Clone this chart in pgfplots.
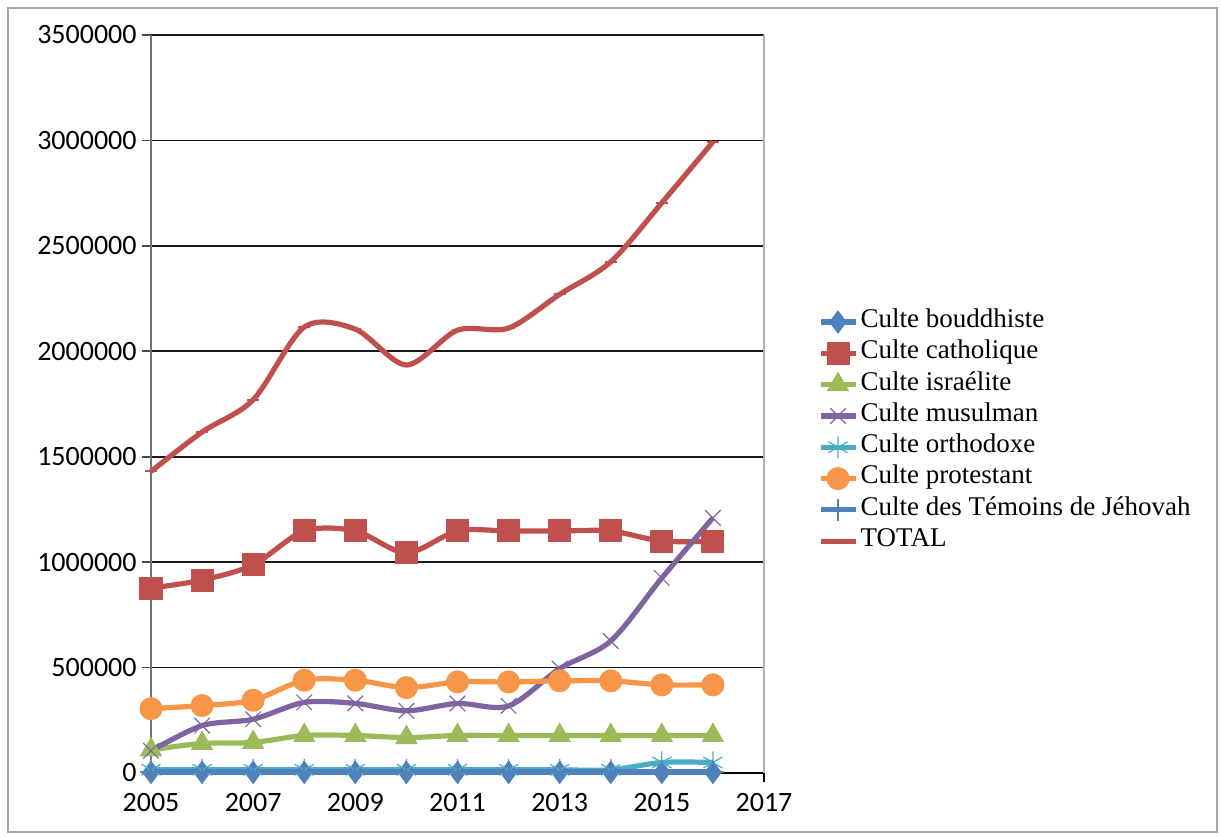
\documentclass[border=0pt]{standalone}
\usepackage{pgfplots}
\pgfplotsset{compat=1.18}
\usepackage{fontspec}
\setmainfont{Liberation Serif}
\newfontfamily\carlito{Carlito}
\definecolor{cblue}{HTML}{4F81BD}
\definecolor{cred}{HTML}{C0504D}
\definecolor{cgreen}{HTML}{9BBB59}
\definecolor{cpurple}{HTML}{8064A2}
\definecolor{ccyan}{HTML}{4BACC6}
\definecolor{corange}{HTML}{F79646}
\pgfplotstableread{
year bouddh cathol israel musul ortho protes jehov total
2005 3000 877000 110000 105000 15000 305000 5000 1430000
2006 3000 915000 140000 225000 15000 320000 5000 1617000
2007 3000 987000 145000 255000 15000 345000 5000 1770000
2008 3000 1148000 178000 335000 15000 440000 5000 2115000
2009 3000 1148000 178000 330000 15000 440000 5000 2105000
2010 3000 1044000 168000 295000 15000 405000 5000 1935000
2011 3000 1148000 178000 330000 15000 432000 5000 2100000
2012 3000 1148000 178000 318000 15000 432000 5000 2110000
2013 3000 1148000 178000 495000 15000 437000 5000 2270000
2014 3000 1148000 178000 626000 15000 437000 5000 2424000
2015 3000 1100000 178000 925000 50000 418000 5000 2704000
2016 3000 1100000 178000 1210000 50000 418000 5000 2993000
}\data
\begin{document}
\begin{tikzpicture}
\useasboundingbox (0,0) rectangle (610.5pt,418pt);
\draw[color=black!35, line width=0.8pt] (4pt,2pt) rectangle (608.5pt,414pt);
\begin{axis}[
  at={(75.5pt,31.5pt)}, anchor=south west,
  scale only axis, width=306.5pt, height=369pt,
  xmin=2005, xmax=2017, ymin=0, ymax=3500000,
  xtick={2005,2007,...,2017},
  ytick={0,500000,...,3500000},
  scaled y ticks=false,
  axis x line*=bottom, axis y line*=left,
  x axis line style={black, line width=0.8pt, -},
  y axis line style={black!55, line width=1pt, -},
  tick align=outside,
  major tick length=4.5pt,
  xtick style={black, line width=0.8pt},
  ytick style={black!70, line width=0.8pt},
  ymajorgrids,
  grid style={black!90, line width=0.8pt},
  /pgf/number format/assume math mode=true,
  ticklabel style={font=\carlito\fontsize{14}{16}\selectfont},
  xticklabel style={/pgf/number format/1000 sep={}, yshift=-2pt},
  yticklabel style={/pgf/number format/fixed, /pgf/number format/1000 sep={}, inner xsep=0pt, xshift=-2.5pt},
  legend style={at={(1.088,0.4626)}, anchor=west, draw=none, fill=none,
    inner sep=0pt, font=\fontsize{13.5}{15}\selectfont,
    nodes={inner xsep=1.5pt, inner ysep=0pt, text height=10.5pt, text depth=5.15pt}},
  legend cell align=left,
  every axis plot/.append style={line width=2.6pt, smooth, tension=0.5},
  clip=false,
]
\addplot[cblue, mark=diamond*, mark size=5.5pt, mark options={solid, line width=0.5pt, fill=cblue}] table[x=year, y=bouddh] {\data};
\addlegendentry{Culte bouddhiste}
\addplot[cred, mark=square*, mark size=5.5pt, mark options={solid, line width=0.5pt, fill=cred}] table[x=year, y=cathol] {\data};
\addlegendentry{Culte catholique}
\addplot[cgreen, mark=triangle*, mark size=6pt, mark options={solid, line width=0.5pt, fill=cgreen}] table[x=year, y=israel] {\data};
\addlegendentry{Culte israélite}
\addplot[cpurple, mark=x, mark size=5.5pt, mark options={solid, line width=0.6pt}] table[x=year, y=musul] {\data};
\addlegendentry{Culte musulman}
\addplot[ccyan, mark=asterisk, mark size=5.5pt, mark options={solid, line width=0.6pt}] table[x=year, y=ortho] {\data};
\addlegendentry{Culte orthodoxe}
\addplot[corange, mark=*, mark size=5.5pt, mark options={solid, line width=0.5pt, fill=corange}] table[x=year, y=protes] {\data};
\addlegendentry{Culte protestant}
\addplot[cblue, mark=+, mark size=5.5pt, mark options={solid, line width=1pt}] table[x=year, y=jehov] {\data};
\addlegendentry{Culte des Témoins de Jéhovah}
\addplot[cred, mark=-, mark size=3pt, mark options={solid, line width=1pt}] table[x=year, y=total] {\data};
\addlegendentry{TOTAL}
\draw[black!30, line width=0.8pt] (axis cs:2017,0) -- (axis cs:2017,3500000);
\end{axis}
\end{tikzpicture}
\end{document}
